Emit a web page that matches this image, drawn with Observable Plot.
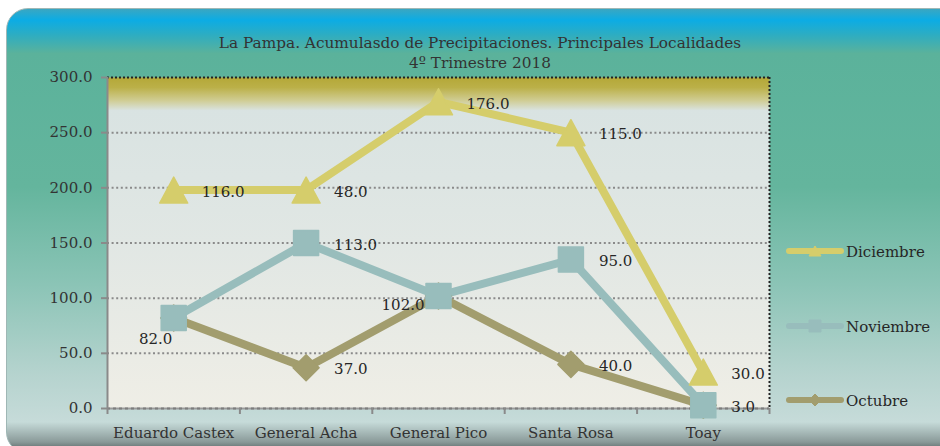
<!DOCTYPE html>
<html><head><meta charset="utf-8">
<script src="https://cdn.jsdelivr.net/npm/d3@7"></script>
<script src="https://cdn.jsdelivr.net/npm/@observablehq/plot@0.6"></script>
<style>
html,body{margin:0;padding:0;background:#fff;}
#wrap{position:relative;width:940px;height:446px;overflow:hidden;font-family:"DejaVu Serif",serif;color:#333;}
#panel{position:absolute;left:6px;top:8px;width:960px;height:446px;border-radius:22px;box-sizing:border-box;border:1.5px solid #9fb7b5;
 background:linear-gradient(to bottom,#3aa7c2 0%,#0cace4 2.5%,#2fadc0 6%,#5bb29b 10%,#64b59d 40%,#8bc4b6 62%,#b5d3ce 82%,#c6dbd9 93%,#8a9a99 97.5%,#4b5757 100%);}
#title{position:absolute;left:0;width:960px;top:33px;text-align:center;font-size:15.3px;line-height:20px;color:#333;}
#chart{position:absolute;left:0;top:0;}
#legend{position:absolute;left:0;top:0;}
</style></head>
<body><div id="wrap"><div id="panel"></div>
<div id="title">La Pampa. Acumulasdo de Precipitaciones. Principales Localidades<br>4º Trimestre 2018</div>
<div id="chart"></div><svg id="legend" width="940" height="446"></svg></div>
<script>
const categories = ["Eduardo Castex","General Acha","General Pico","Santa Rosa","Toay"];
const octubre   = [82, 37, 102, 40, 3];
const noviembre = [0, 113, 0, 95, 0];
const diciembre = [116, 48, 176, 115, 30];
const seriesNames = ["Octubre","Noviembre","Diciembre"];
const yTicks = [0, 50, 100, 150, 200, 250, 300];

const seriesValues = {Octubre: octubre, Noviembre: noviembre, Diciembre: diciembre};
const colors = {Octubre:"#a29d6e", Noviembre:"#98bdbc", Diciembre:"#d5cd6b"};

// stacked rows (cumulative, as in the original stacked-line chart)
const rows = [];
const cum = categories.map(() => 0);
for (const name of seriesNames) {
  seriesValues[name].forEach((v, i) => {
    cum[i] += v;
    rows.push({series: name, i, cat: categories[i], value: v, top: cum[i]});
  });
}
const idx = categories.map((_, i) => i);
const bounds = categories.map((_, i) => i - 0.5).concat([categories.length - 0.5]);

const triSym = {draw(c){ c.moveTo(0,-13); c.lineTo(14,13); c.lineTo(-14,13); c.closePath(); }};
const sqSym  = {draw(c){ c.moveTo(-12.5,-12.5); c.lineTo(12.5,-12.5); c.lineTo(12.5,12.5); c.lineTo(-12.5,12.5); c.closePath(); }};
const diaSym = {draw(c){ c.moveTo(0,-13); c.lineTo(13,0); c.lineTo(0,13); c.lineTo(-13,0); c.closePath(); }};
const symbols = {Octubre: diaSym, Noviembre: sqSym, Diciembre: triSym};

// label placement (styling, not data)
const special = {"Octubre|0": {anchor:"middle", dx:-18, dy:21}, "Octubre|2": {anchor:"end", dx:-14, dy:9}};
const labelRows = rows.filter(d => d.value > 0);
const normalLabels = labelRows.filter(d => !special[d.series + "|" + d.i]);
const specialLabels = labelRows.filter(d => special[d.series + "|" + d.i]);

const fmt = d => d.toFixed(1);
const marks = [
  Plot.frame({fill: "url(#plotGrad)", stroke: "none"}),
  Plot.ruleY(yTicks.filter(t => t > 0 && t < 300), {stroke: "#8a8a8a", strokeWidth: 2, strokeDasharray: "2,2.6"}),
  Plot.ruleY([0], {stroke: "#9a9a9a", strokeWidth: 2}),
  Plot.ruleY([0], {stroke: "#7d7d7d", strokeWidth: 2, strokeDasharray: "3,3"}),
  Plot.ruleY([300], {stroke: "#222", strokeWidth: 2, strokeDasharray: "2,2"}),
  Plot.ruleX([categories.length - 0.5], {stroke: "#222", strokeWidth: 2, strokeDasharray: "2,2"}),
  Plot.ruleX([-0.5], {stroke: "#8a8a8a", strokeWidth: 2}),
  Plot.ruleY(yTicks, {x1: -0.5, x2: -0.5, insetLeft: -6, stroke: "#8a8a8a", strokeWidth: 2}),
  Plot.ruleX(bounds, {y1: 0, y2: 0, insetBottom: -6, stroke: "#8a8a8a", strokeWidth: 2}),
  Plot.axisY({ticks: yTicks, tickFormat: fmt, tickSize: 0, tickPadding: 15, fontSize: 15, fill: "#333", label: null}),
  Plot.axisX({ticks: idx, tickFormat: i => categories[i], tickSize: 0, tickPadding: 19, fontSize: 15, fill: "#333", label: null})
];
for (const name of seriesNames) {
  marks.push(Plot.line(rows.filter(d => d.series === name), {x: "i", y: "top", stroke: colors[name], strokeWidth: 8, strokeLinejoin: "round"}));
}
for (const name of seriesNames) {
  marks.push(Plot.dot(rows.filter(d => d.series === name), {x: "i", y: "top", symbol: symbols[name], fill: colors[name], stroke: colors[name], strokeWidth: 1.5, strokeLinejoin: "round"}));
}
marks.push(Plot.text(normalLabels, {x: "i", y: "top", text: d => fmt(d.value), textAnchor: "start", dx: 28, dy: 2, fontSize: 15, fill: "#262626"}));
for (const d of specialLabels) {
  const s = special[d.series + "|" + d.i];
  marks.push(Plot.text([d], {x: "i", y: "top", text: d => fmt(d.value), textAnchor: s.anchor, dx: s.dx, dy: s.dy, fontSize: 15, fill: "#262626"}));
}

const chart = Plot.plot({
  width: 940, height: 446,
  marginTop: 77, marginBottom: 38, marginLeft: 107, marginRight: 171,
  style: {background: "transparent", fontFamily: "'DejaVu Serif', serif", fontSize: "15px", color: "#333"},
  x: {type: "linear", domain: [-0.5, categories.length - 0.5], axis: null, label: null},
  y: {domain: [0, 300], axis: null, label: null},
  marks
});
const defs = d3.select(chart).insert("defs", ":first-child");
const g = defs.append("linearGradient").attr("id", "plotGrad").attr("x1", 0).attr("y1", 0).attr("x2", 0).attr("y2", 1);
[[0,"#b4a838"],[0.03,"#bbb048"],[0.07,"#d0cd95"],[0.1,"#d9e3e2"],[0.5,"#e1e7e4"],[1,"#efeee6"]].forEach(([o,c]) =>
  g.append("stop").attr("offset", o).attr("stop-color", c));
document.getElementById("chart").appendChild(chart);

// legend
const leg = d3.select("#legend");
const legendY = {Diciembre: 251, Noviembre: 326, Octubre: 400};
const legSym = {
  Diciembre: (x, y) => `M${x},${y-5}L${x+6},${y+5}L${x-6},${y+5}Z`,
  Noviembre: (x, y) => `M${x-6},${y-6}L${x+6},${y-6}L${x+6},${y+6}L${x-6},${y+6}Z`,
  Octubre: (x, y) => `M${x},${y-6}L${x+6},${y}L${x},${y+6}L${x-6},${y}Z`
};
for (const name of ["Diciembre","Noviembre","Octubre"]) {
  const y = legendY[name];
  leg.append("line").attr("x1", 789).attr("x2", 841).attr("y1", y).attr("y2", y)
    .attr("stroke", colors[name]).attr("stroke-width", 6).attr("stroke-linecap", "round");
  leg.append("path").attr("d", legSym[name](815, y)).attr("fill", colors[name]).attr("stroke", colors[name]).attr("stroke-linejoin","round");
  leg.append("text").attr("x", 846).attr("y", y + 5.5).attr("font-size", 15).attr("fill", "#262626")
    .attr("font-family", "'DejaVu Serif', serif").text(name);
}
</script></body></html>
